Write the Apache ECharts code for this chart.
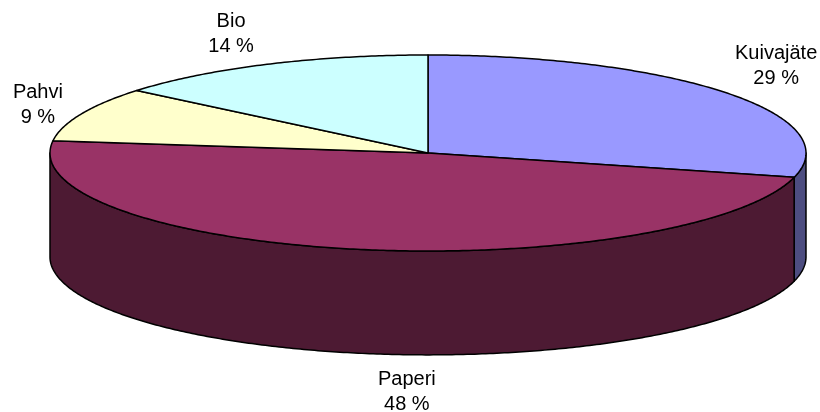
<!DOCTYPE html>
<html>
<head>
<meta charset="utf-8">
<style>html,body{margin:0;padding:0;background:#fff}#chart{width:820px;height:412px}</style>
<script src="https://cdn.jsdelivr.net/npm/echarts@6/dist/echarts.min.js"></script>
</head>
<body>
<div id="chart"></div>
<script>
// Jätejakeiden osuudet, myötäpäivään kello 12:sta alkaen
const categories = ['Kuivajäte', 'Paperi', 'Pahvi', 'Bio'];
const shares = [29, 48, 9, 14];
const topColors = ['#9999FF', '#993366', '#FFFFCC', '#CCFFFF'];
const wallColors = ['#4D4D80', '#4D1A33', '#80806A', '#6A8080'];

// Kiekon paksuus akselin yksiköissä (y-akselilla säde on 1)
const depth = 1.06;
// Selitteiden keskipisteet akselin yksiköissä
const labelX = [0.921, -0.056, -1.032, -0.521];
const labelY = [0.883, -2.439, 0.495, 1.210];

const total = shares.reduce((a, b) => a + b, 0);
const TAU = Math.PI * 2;

// Kulma mitataan kello 12:sta myötäpäivään; yksikköympyrä venyy akseleiden mukana ellipsiksi
function rim(angle, drop) {
  return [Math.sin(angle), Math.cos(angle) - drop];
}

function arcPoints(api, from, to, drop) {
  const steps = Math.max(2, Math.ceil(Math.abs(to - from) / 0.01));
  const pts = [];
  for (let k = 0; k <= steps; k++) {
    pts.push(api.coord(rim(from + (to - from) * k / steps, drop)));
  }
  return pts;
}

function renderSlice(params, api) {
  const i = params.dataIndex;
  const before = shares.slice(0, i).reduce((a, b) => a + b, 0);
  const start = before / total * TAU;
  const end = (before + api.value(1)) / total * TAU;
  const children = [];
  const edge = { stroke: '#000', lineWidth: 1.5, lineJoin: 'round' };

  // Sivuseinä näkyy vain kiekon etupuolella
  const wallFrom = Math.max(start, Math.PI / 2);
  const wallTo = Math.min(end, Math.PI * 1.5);
  if (wallTo > wallFrom) {
    const upper = arcPoints(api, wallFrom, wallTo, 0);
    const lower = arcPoints(api, wallTo, wallFrom, depth);
    children.push({
      type: 'polygon',
      shape: { points: upper.concat(lower) },
      style: Object.assign({ fill: wallColors[i] }, edge)
    });
  }

  // Kansisektori
  children.push({
    type: 'polygon',
    shape: { points: [api.coord([0, 0])].concat(arcPoints(api, start, end, 0)) },
    style: Object.assign({ fill: topColors[i] }, edge)
  });

  const at = api.coord([labelX[i], labelY[i]]);
  children.push({
    type: 'text',
    style: {
      text: categories[i] + '\n' + api.value(1) + ' %',
      x: at[0],
      y: at[1],
      align: 'center',
      verticalAlign: 'middle',
      fontFamily: '"Liberation Sans", Arial, sans-serif',
      fontSize: 20,
      lineHeight: 25,
      fill: '#000'
    }
  });
  return { type: 'group', children };
}

const chart = echarts.init(document.getElementById('chart'), null, { renderer: 'canvas' });
chart.setOption({
  animation: false,
  backgroundColor: '#fff',
  grid: { left: 50, top: 55, width: 756, height: 98 * (2 + depth) },
  xAxis: { type: 'value', min: -1, max: 1, show: false },
  yAxis: { type: 'value', min: -1 - depth, max: 1, show: false },
  series: [{
    type: 'custom',
    coordinateSystem: 'cartesian2d',
    silent: true,
    clip: false,
    renderItem: renderSlice,
    encode: { x: 0, y: 1 },
    data: shares.map((v, i) => [i, v])
  }]
});
</script>
</body>
</html>
